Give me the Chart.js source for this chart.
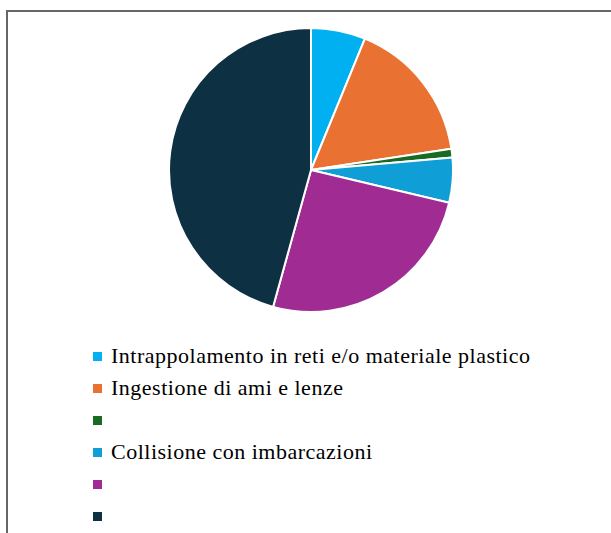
<!DOCTYPE html>
<html>
<head>
<meta charset="utf-8">
<script src="https://cdn.jsdelivr.net/npm/chart.js@4"></script>
<style>
  body { margin: 0; background: #fff; width: 611px; height: 533px; overflow: hidden; position: relative; }
  #frame { position: absolute; left: 6px; top: 10px; width: 700px; height: 600px; border-top: 2px solid #666; border-left: 2px solid #666; }
  #wrap { position: absolute; left: 168px; top: 27px; width: 286px; height: 286px; }
  #legend { position: absolute; left: 93px; top: 340px; font-family: "Liberation Serif", "Times New Roman", serif; font-size: 22px; letter-spacing: 0.5px; color: #000; }
  .item { height: 32px; line-height: 32px; display: flex; align-items: center; }
  .box { width: 9px; height: 9px; margin-right: 9px; flex: none; }
</style>
</head>
<body>
<div id="frame"></div>
<div id="wrap"><canvas id="myChart"></canvas></div>
<div id="legend"></div>
<script>
const labels = [
    "Intrappolamento in reti e/o materiale plastico",
    "Ingestione di ami e lenze",
    "",
    "Collisione con imbarcazioni",
    "",
    ""
];
const values = [6.2, 16.4, 1.0, 5.1, 25.6, 45.7];
const colors = ["#00B0F0", "#E97132", "#196B24", "#0F9ED5", "#A02B93", "#0D3043"];

const ctx = document.querySelector("#myChart");

let myChart = new Chart(ctx, {
    type: 'pie',
    data: {
        labels: labels,
        datasets: [{
            data: values,
            backgroundColor: colors,
            borderColor: '#ffffff',
            borderWidth: 2,
            hoverOffset: 0
        }]
    },
    options: {
        responsive: true,
        maintainAspectRatio: false,
        animation: false,
        layout: { padding: 0 },
        plugins: {
            legend: { display: false },
            tooltip: { enabled: false }
        }
    }
});

// legend below, one entry per row
const legend = document.querySelector("#legend");
labels.forEach((name, i) => {
    const row = document.createElement("div");
    row.className = "item";
    const box = document.createElement("span");
    box.className = "box";
    box.style.background = colors[i];
    const txt = document.createElement("span");
    txt.textContent = name;
    row.appendChild(box);
    row.appendChild(txt);
    legend.appendChild(row);
});
</script>
</body>
</html>
